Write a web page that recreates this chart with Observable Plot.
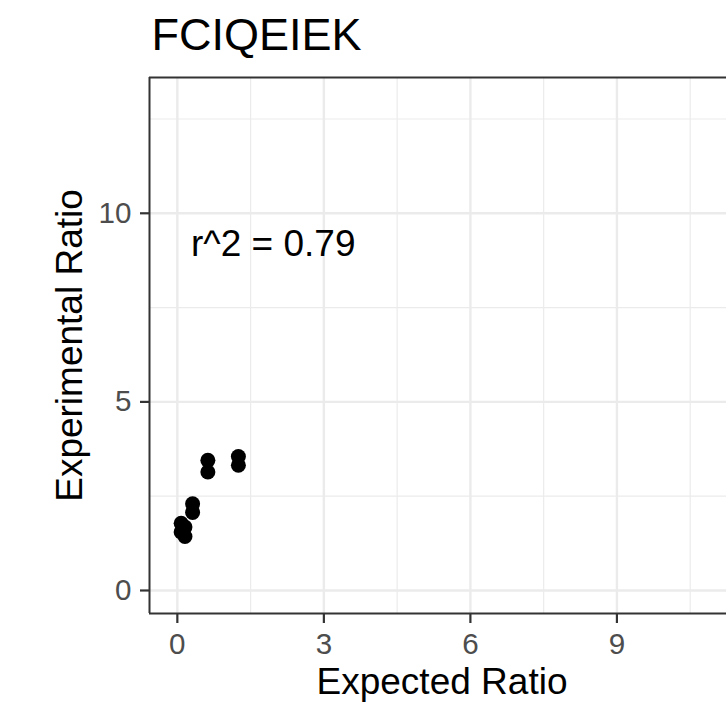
<!DOCTYPE html>
<html>
<head>
<meta charset="utf-8">
<script src="https://cdn.jsdelivr.net/npm/d3@7"></script>
<script src="https://cdn.jsdelivr.net/npm/@observablehq/plot@0.6"></script>
<style>
  html, body { margin: 0; padding: 0; background: #fff; }
  #chart svg { display: block; }
</style>
</head>
<body>
<div id="chart"></div>
<script>
const title = "FCIQEIEK";
const xLabel = "Expected Ratio";
const yLabel = "Experimental Ratio";
const annotation = "r^2 = 0.79";
const expected = [0.078, 0.078, 0.156, 0.156, 0.3125, 0.3125, 0.625, 0.625, 1.25, 1.25];
const experimental = [1.78, 1.55, 1.68, 1.43, 2.30, 2.07, 3.45, 3.14, 3.55, 3.32];
const xTicks = [0, 3, 6, 9];
const xMinor = [1.5, 4.5, 7.5, 10.5];
const yTicks = [0, 5, 10];
const yMinor = [2.5, 7.5, 12.5];
const xDomain = [-0.57, 11.53];
const yDomain = [-0.61, 13.6];
const annX = 0.28, annY = 9.18;

const data = expected.map((e, i) => ({expected: e, experimental: experimental[i]}));
const font = "'Liberation Sans', Arial, Helvetica, sans-serif";

const W = 726, H = 709;
const mL = 149, mT = 77, mB = 96;

const chart = Plot.plot({
  width: W,
  height: H,
  marginLeft: mL,
  marginTop: mT,
  marginBottom: mB,
  marginRight: 0,
  style: {fontFamily: font, background: "#fff", overflow: "hidden"},
  x: {domain: xDomain, range: [mL, 740]},
  y: {domain: yDomain},
  marks: [
    Plot.gridX(xMinor, {stroke: "#EBEBEB", strokeOpacity: 1, strokeWidth: 1.2}),
    Plot.gridY(yMinor, {stroke: "#EBEBEB", strokeOpacity: 1, strokeWidth: 1.2}),
    Plot.gridX(xTicks, {stroke: "#EBEBEB", strokeOpacity: 1, strokeWidth: 2.4}),
    Plot.gridY(yTicks, {stroke: "#EBEBEB", strokeOpacity: 1, strokeWidth: 2.4}),
    Plot.dot(data, {x: "expected", y: "experimental", r: 7.5, fill: "#000", stroke: null}),
    Plot.text([annotation], {x: annX, y: annY, text: d => d, textAnchor: "start", lineAnchor: "middle", fontSize: 37, fill: "#000"}),
    Plot.ruleX([xDomain[0]], {stroke: "#333333", strokeWidth: 2}),
    Plot.ruleY([yDomain[0], yDomain[1]], {stroke: "#333333", strokeWidth: 2}),
    Plot.axisX(xTicks, {tickSize: 10, tickPadding: 9, fontSize: 29.6, color: "#4D4D4D", stroke: "#333333", strokeWidth: 2.2, strokeOpacity: 1, label: null, tickFormat: d => String(d)}),
    Plot.axisY(yTicks, {tickSize: 9, tickPadding: 9, fontSize: 29.6, color: "#4D4D4D", stroke: "#333333", strokeWidth: 2.2, strokeOpacity: 1, label: null, tickFormat: d => String(d)}),
    Plot.text([xLabel], {frameAnchor: "bottom", text: d => d, dx: 4, dy: 69, textAnchor: "middle", lineAnchor: "middle", fontSize: 37, fill: "#000"}),
    Plot.text([yLabel], {frameAnchor: "left", text: d => d, dx: -79, rotate: -90, textAnchor: "middle", lineAnchor: "middle", fontSize: 37, fill: "#000"}),
    Plot.text([title], {frameAnchor: "top-left", text: d => d, dx: 2, dy: -42, textAnchor: "start", lineAnchor: "middle", fontSize: 45, fill: "#000"})
  ]
});
document.getElementById("chart").appendChild(chart);
</script>
</body>
</html>
